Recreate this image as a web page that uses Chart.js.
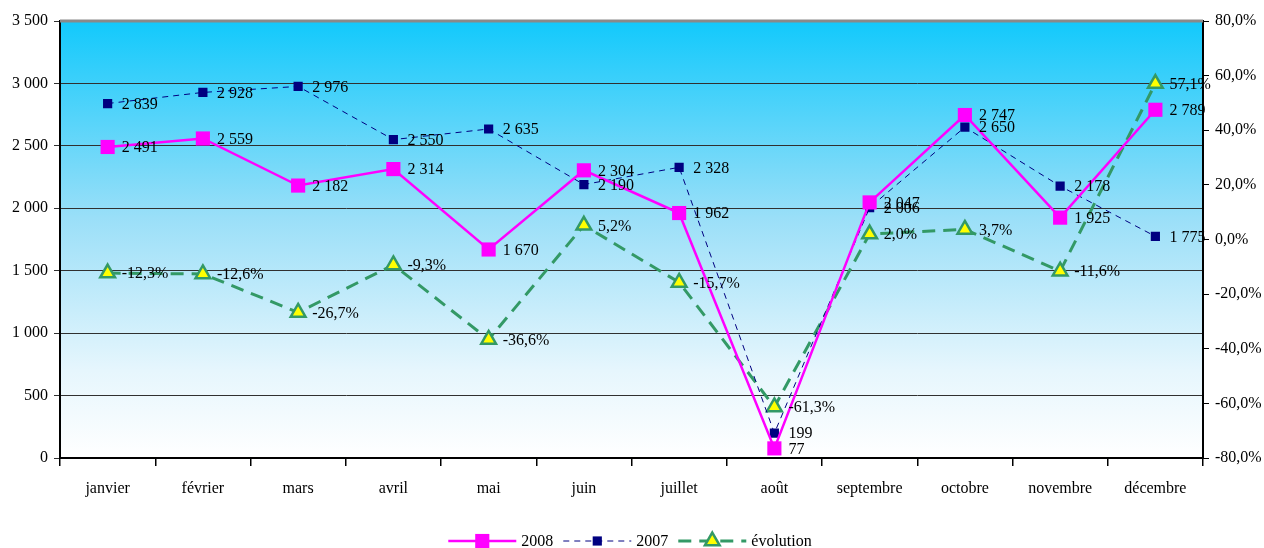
<!DOCTYPE html>
<html>
<head>
<meta charset="utf-8">
<script src="https://cdn.jsdelivr.net/npm/chart.js@4/dist/chart.umd.min.js"></script>
<style>
  html, body { margin: 0; padding: 0; background: #ffffff; }
  #wrap { width: 1264px; height: 548px; position: relative; }
</style>
</head>
<body>
<div id="wrap"><canvas id="c" width="1264" height="548"></canvas></div>
<script>
// Monthly figures 2008 vs 2007 and the year-on-year change
const months = ['janvier', 'février', 'mars', 'avril', 'mai', 'juin', 'juillet', 'août', 'septembre', 'octobre', 'novembre', 'décembre'];
const values2008 = [2491, 2559, 2182, 2314, 1670, 2304, 1962, 77, 2047, 2747, 1925, 2789];
const values2007 = [2839, 2928, 2976, 2550, 2635, 2190, 2328, 199, 2006, 2650, 2178, 1775];
const evolution = [-12.3, -12.6, -26.7, -9.3, -36.6, 5.2, -15.7, -61.3, 2.0, 3.7, -11.6, 57.1];
const leftTicks = [0, 500, 1000, 1500, 2000, 2500, 3000, 3500];
const rightTicks = [-80, -60, -40, -20, 0, 20, 40, 60, 80];

const FONT = 'Liberation Serif, Times New Roman, serif';

function fmtThousands(v) {
  return String(Math.round(v)).replace(/\B(?=(\d{3})+(?!\d))/g, ' ');
}
function fmtPct(v) {
  return v.toFixed(1).replace('.', ',') + '%';
}

// Cyan-to-white fill behind the plot area, plus its grey top edge
const plotBackground = {
  id: 'plotBackground',
  beforeDraw(chart) {
    const { ctx, chartArea: a } = chart;
    const g = ctx.createLinearGradient(0, a.top, 0, a.bottom);
    g.addColorStop(0, '#12c9fc');
    g.addColorStop(0.45, '#9adff8');
    g.addColorStop(0.8, '#e6f6fd');
    g.addColorStop(1, '#ffffff');
    ctx.save();
    ctx.fillStyle = g;
    ctx.fillRect(a.left, a.top, a.right - a.left, a.bottom - a.top);
    ctx.restore();
  },
  beforeDatasetsDraw(chart) {
    const { ctx, chartArea: a } = chart;
    ctx.save();
    ctx.strokeStyle = '#8a8a8a';
    ctx.lineWidth = 3;
    ctx.beginPath();
    ctx.moveTo(a.left, a.top);
    ctx.lineTo(a.right, a.top);
    ctx.stroke();
    ctx.restore();
  }
};

// Value labels to the right of every point
const valueLabels = {
  id: 'valueLabels',
  afterDatasetsDraw(chart) {
    const { ctx } = chart;
    ctx.save();
    ctx.font = '16px ' + FONT;
    ctx.fillStyle = '#000000';
    ctx.textAlign = 'left';
    ctx.textBaseline = 'middle';
    chart.data.datasets.forEach((ds, di) => {
      const meta = chart.getDatasetMeta(di);
      meta.data.forEach((pt, i) => {
        const v = ds.data[i];
        const txt = ds.yAxisID === 'y1' ? fmtPct(v) : fmtThousands(v);
        ctx.fillText(txt, pt.x + 14, pt.y + 1);
      });
    });
    ctx.restore();
  }
};

// Legend drawn under the axis: line sample, marker, then the series name
const lineLegend = {
  id: 'lineLegend',
  afterDraw(chart) {
    const { ctx } = chart;
    const y = 541;
    const lineLen = 68, gapText = 5, gapItem = 10;
    ctx.save();
    ctx.font = '16px ' + FONT;
    const items = chart.data.datasets.map(ds => ({ ds, w: lineLen + gapText + ctx.measureText(ds.label).width }));
    const total = items.reduce((s, it) => s + it.w, 0) + gapItem * (items.length - 1);
    let x = 630 - total / 2;
    items.forEach(({ ds, w }) => {
      // line sample
      ctx.save();
      ctx.strokeStyle = ds.borderColor;
      ctx.lineWidth = ds.borderWidth;
      ctx.setLineDash(ds.borderDash || []);
      ctx.beginPath();
      ctx.moveTo(x, y);
      ctx.lineTo(x + lineLen, y);
      ctx.stroke();
      ctx.restore();
      // marker
      ctx.save();
      ctx.fillStyle = ds.pointBackgroundColor;
      ctx.strokeStyle = ds.pointBorderColor;
      ctx.lineWidth = ds.pointBorderWidth;
      Chart.helpers.drawPoint(ctx, {
        pointStyle: ds.pointStyle,
        radius: ds.pointRadius,
        borderWidth: ds.pointBorderWidth,
        rotation: 0
      }, x + lineLen / 2, y);
      ctx.restore();
      // name
      ctx.save();
      ctx.font = '16px ' + FONT;
      ctx.fillStyle = '#000000';
      ctx.textAlign = 'left';
      ctx.textBaseline = 'middle';
      ctx.fillText(ds.label, x + lineLen + gapText, y + 1);
      ctx.restore();
      x += w + gapItem;
    });
    ctx.restore();
  }
};

new Chart(document.getElementById('c'), {
  type: 'line',
  data: {
    labels: months,
    datasets: [
      {
        label: '2008',
        data: values2008,
        yAxisID: 'y',
        borderColor: '#ff00ff',
        borderWidth: 2.5,
        pointStyle: 'rect',
        pointRadius: 10,
        pointBackgroundColor: '#ff00ff',
        pointBorderColor: '#ff00ff',
        pointBorderWidth: 0,
        tension: 0
      },
      {
        label: '2007',
        data: values2007,
        yAxisID: 'y',
        borderColor: '#000080',
        borderWidth: 1,
        borderDash: [6, 5],
        pointStyle: 'rect',
        pointRadius: 6.5,
        pointBackgroundColor: '#000080',
        pointBorderColor: '#000080',
        pointBorderWidth: 0,
        tension: 0
      },
      {
        label: 'évolution',
        data: evolution,
        yAxisID: 'y1',
        borderColor: '#339966',
        borderWidth: 3,
        borderDash: [13, 8],
        pointStyle: 'triangle',
        pointRadius: 8.5,
        pointBackgroundColor: '#ffff00',
        pointBorderColor: '#339966',
        pointBorderWidth: 2.5,
        tension: 0
      }
    ]
  },
  options: {
    responsive: false,
    animation: false,
    layout: { padding: { top: 21, left: 0, right: 0, bottom: 0 } },
    plugins: {
      legend: { display: false },
      tooltip: { enabled: false }
    },
    scales: {
      x: {
        type: 'category',
        offset: true,
        grid: {
          offset: true,
          drawOnChartArea: false,
          color: '#000000',
          lineWidth: 1.5,
          tickLength: 8
        },
        border: { color: '#000000', width: 2 },
        ticks: {
          color: '#000000',
          font: { family: FONT, size: 16 },
          padding: 13,
          maxRotation: 0,
          autoSkip: false
        },
        afterFit(s) { s.height = 90; }
      },
      y: {
        position: 'left',
        min: 0,
        max: 3500,
        afterBuildTicks(s) { s.ticks = leftTicks.map(v => ({ value: v })); },
        grid: { color: '#303030', lineWidth: 1, tickLength: 6 },
        border: { color: '#000000', width: 2 },
        ticks: {
          color: '#000000',
          font: { family: FONT, size: 16 },
          padding: 6,
          callback: v => fmtThousands(v)
        },
        afterFit(s) { s.width = 60; }
      },
      y1: {
        position: 'right',
        min: -80,
        max: 80,
        afterBuildTicks(s) { s.ticks = rightTicks.map(v => ({ value: v })); },
        grid: { drawOnChartArea: false, color: '#000000', lineWidth: 1, tickLength: 6 },
        border: { color: '#000000', width: 2 },
        ticks: {
          color: '#000000',
          font: { family: FONT, size: 16 },
          padding: 6,
          callback: v => fmtPct(v)
        },
        afterFit(s) { s.width = 61; }
      }
    }
  },
  plugins: [plotBackground, valueLabels, lineLegend]
});
</script>
</body>
</html>
